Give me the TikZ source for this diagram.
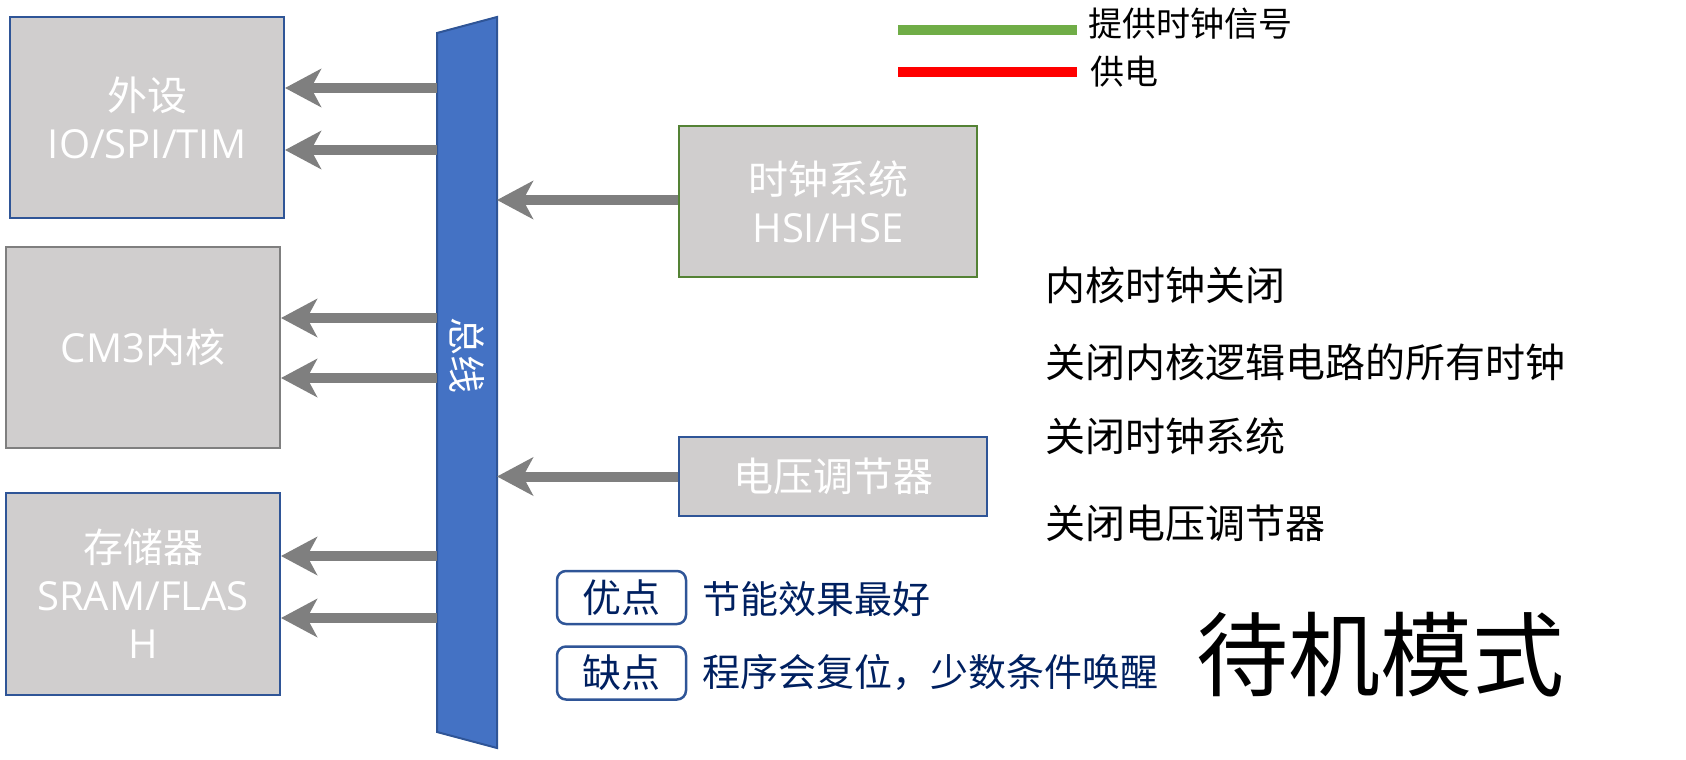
\documentclass[tikz,border=0pt]{standalone}
\usepackage{fontspec}
\setmainfont{Noto Sans CJK SC}
\newfontfamily\lat{Open Sans}
\usetikzlibrary{arrows.meta}
\definecolor{bx}{HTML}{D0CECE}
\definecolor{bb}{HTML}{2F5597}
\definecolor{gb}{HTML}{548235}
\definecolor{ar}{HTML}{7F7F7F}
\definecolor{bus}{HTML}{4472C4}
\definecolor{nv}{HTML}{002060}
\definecolor{lg}{HTML}{70AD47}
\tikzset{x=1pt,y=-1pt,
 blk/.style={draw=bb,line width=2pt,fill=bx,text=white,font=\fontsize{40}{48}\selectfont,align=center,inner sep=0pt},
 arr/.style={draw=ar,line width=10pt,-{Stealth[length=36pt,width=38pt,inset=10pt]}},
 rt/.style={anchor=west,font=\fontsize{40}{46}\selectfont,inner sep=0pt},
 btn/.style={draw=bb,line width=2.5pt,rounded corners=9pt,text=nv,font=\fontsize{39}{46}\selectfont,minimum width=129pt,minimum height=53pt,inner sep=0pt},
 nt/.style={anchor=west,text=nv,font=\fontsize{38}{46}\selectfont,inner sep=0pt}}
\begin{document}
\begin{tikzpicture}
\useasboundingbox (0,0) rectangle (1686,760);
\fill[bus,draw=bb,line width=2pt] (437,33) -- (497,17) -- (497,748) -- (437,732) -- cycle;
\node[text=white,rotate=-90,font=\fontsize{38}{44}\selectfont] (bl) at (467,355) {总线};
\coordinate (busL) at (437,0); \coordinate (busR) at (497,0);
\node[blk,minimum width=274pt,minimum height=201pt] (pe) at (147,117.5) {外设\\{\lat IO/SPI/TIM}};
\node[blk,draw=ar,minimum width=274pt,minimum height=201pt] (cm) at (143,347.5) {{\lat CM3}内核};
\node[blk,minimum width=274pt,minimum height=202pt] (me) at (143,594) {存储器\\{\lat SRAM/FLAS}\\{\lat H}};
\node[blk,draw=gb,minimum width=298pt,minimum height=151pt] (ck) at (828,201.5) {时钟系统\\{\lat HSI/HSE}};
\node[blk,minimum width=308pt,minimum height=79pt] (vr) at (833,476.5) {电压调节器};
\foreach \y in {88,150}{\draw[arr] (busL|-0,\y) -- (pe.east|-0,\y);}
\foreach \y in {318,378}{\draw[arr] (busL|-0,\y) -- (cm.east|-0,\y);}
\foreach \y in {556,618}{\draw[arr] (busL|-0,\y) -- (me.east|-0,\y);}
\draw[arr] (ck.west|-0,200) -- (busR|-0,200);
\draw[arr] (vr.west) -- (busR|-vr.west);
\coordinate (g1) at (898,30); \coordinate (g2) at (1077,30);
\draw[lg,line width=10pt] (g1) -- (g2);
\node[rt,font=\fontsize{34}{40}\selectfont] (gt) at (1088,24) {提供时钟信号};
\coordinate (r1) at (898,72); \coordinate (r2) at (1077,72);
\draw[red,line width=10pt] (r1) -- (r2);
\node[rt,font=\fontsize{34}{40}\selectfont] (rtx) at (1090,72) {供电};
\node[rt] (t1) at (1045,285) {内核时钟关闭};
\node[rt] (t2) at (1045,362) {关闭内核逻辑电路的所有时钟};
\node[rt] (t3) at (1045,436) {关闭时钟系统};
\node[rt] (t4) at (1045,523) {关闭电压调节器};
\node[btn] (yd) at (621.5,597.5) {优点};
\node[btn] (qd) at (621.5,673) {缺点};
\node[nt] (n1) at (702,599) {节能效果最好};
\node[nt] (n2) at (702,672) {程序会复位，少数条件唤醒};
\node[anchor=center,font=\fontsize{92}{100}\selectfont,inner sep=0pt] (ti) at (1380,655) {待机模式};
\end{tikzpicture}
\end{document}
